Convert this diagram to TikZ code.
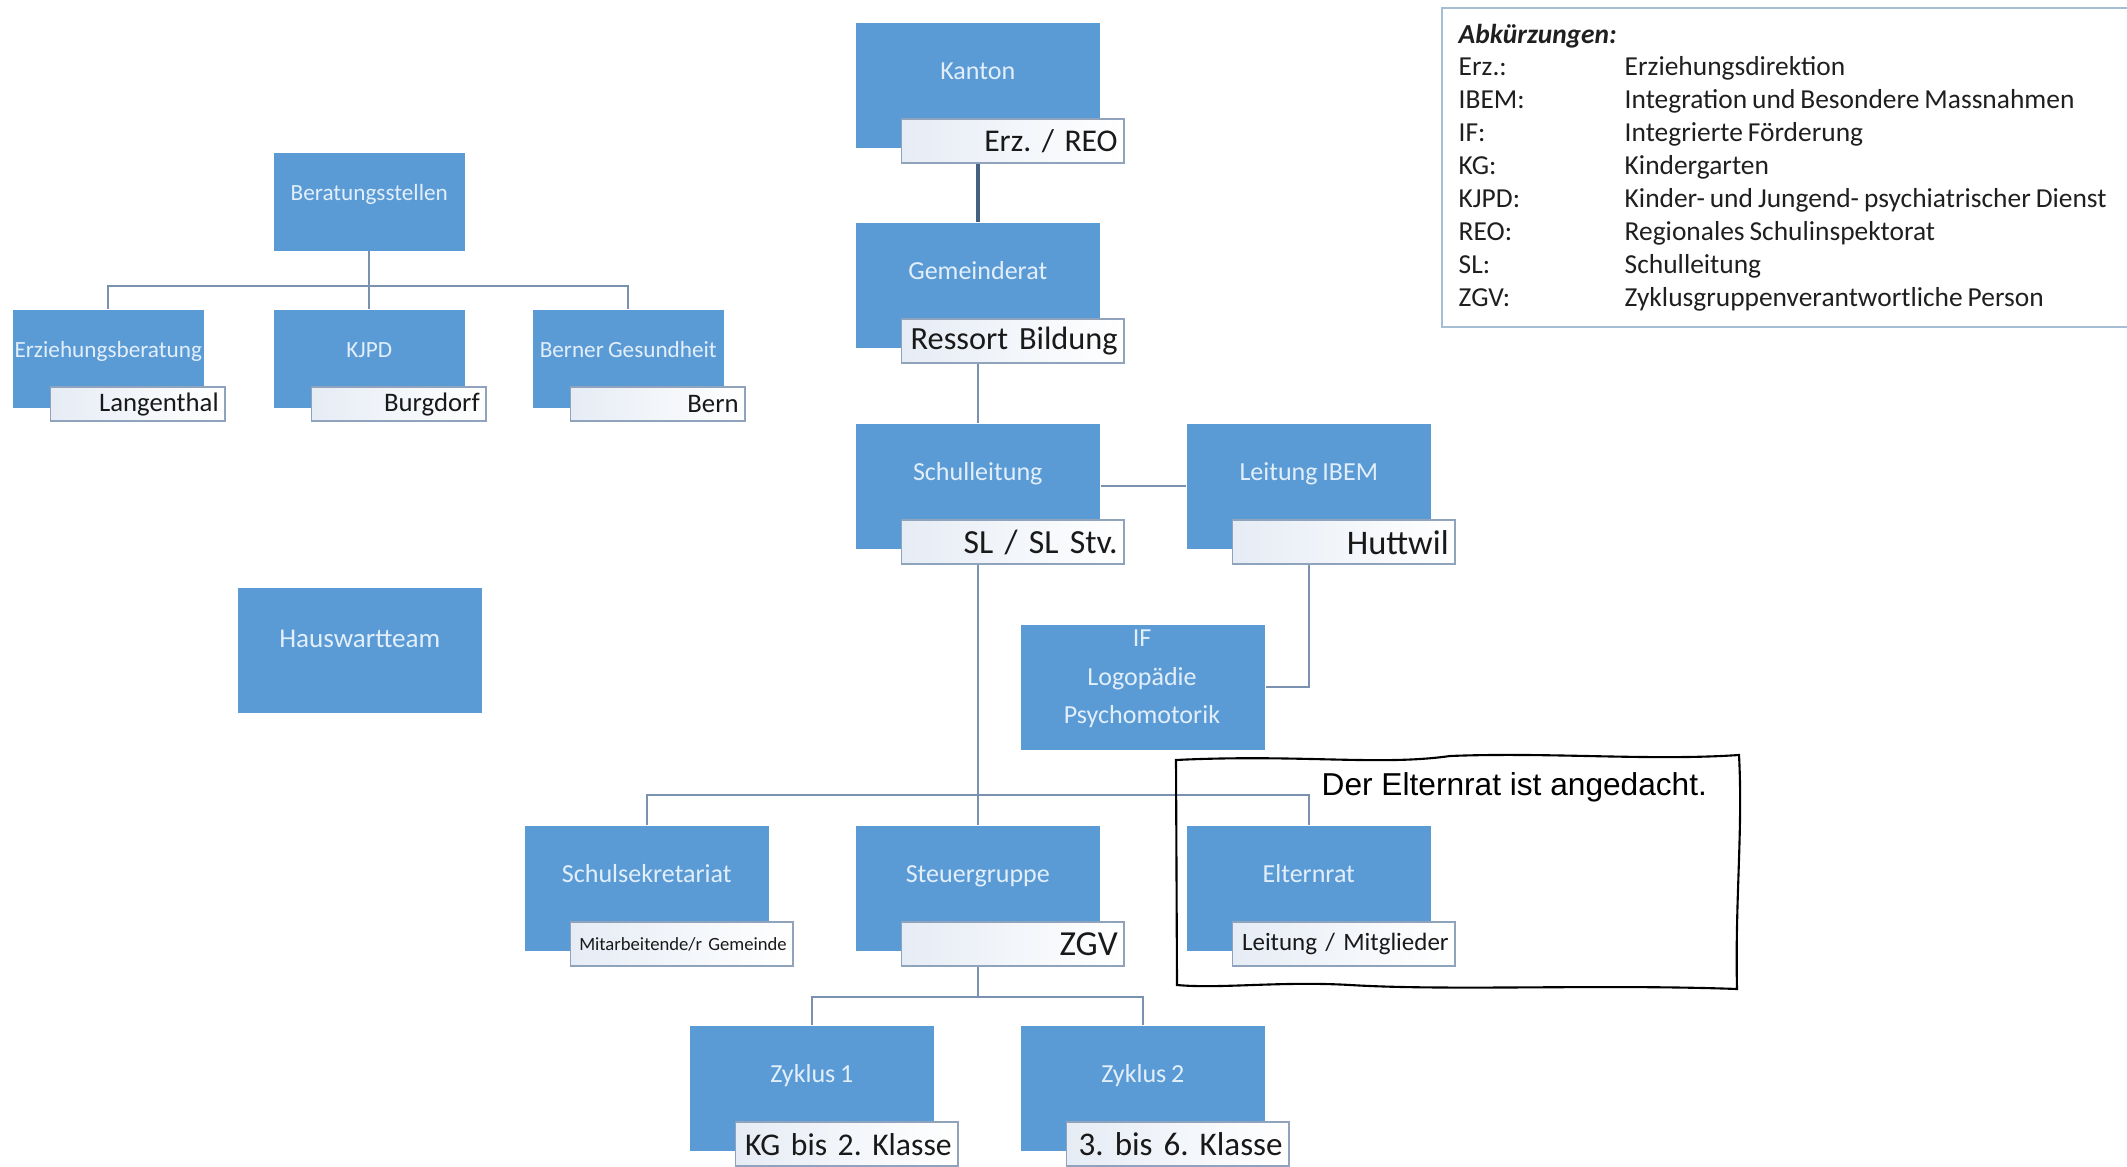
\documentclass[tikz,border=0pt]{standalone}
\usepackage{fontspec}
\setmainfont{Carlito}[WordSpace=0.8]
\newfontfamily\notefont{Liberation Sans}
\usetikzlibrary{positioning}
\frenchspacing
\newcommand{\myfs}[1]{\fontsize{#1}{#1}\selectfont}
\definecolor{boxblue}{RGB}{91,155,213}
\definecolor{boxtxt}{RGB}{226,239,251}
\definecolor{tagline}{RGB}{143,163,188}
\definecolor{tagleft}{RGB}{230,236,245}
\definecolor{linecol}{RGB}{122,146,176}
\definecolor{darkline}{RGB}{68,98,128}
\definecolor{legline}{RGB}{165,190,212}

\tikzset{
  orgbox/.style={fill=boxblue, text=boxtxt, anchor=north west, inner sep=0pt,
    minimum width=2.44cm, minimum height=1.25cm, text height=0.57cm, text depth=0.68cm, font=\myfs{7.4}},
  smallbox/.style={orgbox, minimum width=1.91cm, minimum height=0.98cm,
    text height=0.48cm, text depth=0.50cm, font=\myfs{6.6}},
  tag/.style={draw=tagline, line width=0.5pt, left color=tagleft, right color=white, text=black!90,
    anchor=north east, minimum height=0.44cm, inner xsep=0.06cm, inner ysep=0pt,
    text width=2.10cm, align=right},
  smalltag/.style={tag, minimum height=0.34cm, text width=1.62cm, font=\myfs{7.6}},
  conn/.style={draw=linecol, line width=0.7pt},
  legtext/.style={anchor=base west, inner sep=0pt, font=\myfs{7.8}, text=black!88}
}

\begin{document}
\begin{tikzpicture}[x=0.01cm, y=-0.01cm]
  \useasboundingbox (0,0) rectangle (2127,1167);
  \clip (0,0) rectangle (2127,1167);

  % Beratungsstellen
  \node[smallbox] (ber) at (273,152) {Beratungsstellen};
  \node[smallbox] (erz) at (12,309) {Erziehungsberatung};
  \node[smallbox] (kjpd) at (273,309) {KJPD};
  \node[smallbox] (berner) at (532,309) {Berner Gesundheit};
  \node[smalltag] (erztag) at ([xshift=0.21cm, yshift=0.22cm]erz.south east) {Langenthal};
  \node[smalltag] (kjpdtag) at ([xshift=0.21cm, yshift=0.22cm]kjpd.south east) {Burgdorf};
  \node[smalltag] (bernertag) at ([xshift=0.21cm, yshift=0.22cm]berner.south east) {Bern};
  \draw[conn] (ber.south) -- (kjpd.north);
  \draw[conn] (erz.north) -- ++(0,-23) -| (berner.north);

  \node[orgbox, text height=0.60cm, text depth=0.65cm, font=\myfs{7.7}] (haus) at (237,587) {Hauswartteam};

  % Kanton / Gemeinde / Schule
  \node[orgbox] (kanton) at (855,22) {Kanton};
  \node[tag, font=\myfs{9}] (kantontag) at ([xshift=0.24cm, yshift=0.30cm]kanton.south east) {Erz. / REO};
  \node[orgbox] (gemeinderat) at (855,222) {Gemeinderat};
  \node[tag, font=\myfs{9.2}] (gemtag) at ([xshift=0.24cm, yshift=0.30cm]gemeinderat.south east) {Ressort Bildung};
  \node[orgbox] (schulleitung) at (855,423) {Schulleitung};
  \node[tag, font=\myfs{9.6}] (sltag) at ([xshift=0.24cm, yshift=0.30cm]schulleitung.south east) {SL / SL Stv.};
  \node[orgbox] (ibem) at (1186,423) {Leitung IBEM};
  \node[tag, font=\myfs{9.8}] (ibemtag) at ([xshift=0.24cm, yshift=0.30cm]ibem.south east) {Huttwil};
  \node[orgbox] (ifbox) at (1020,624) {};
  \node[text=boxtxt, align=center, inner sep=0pt, font=\fontsize{7.4}{10.9}\selectfont] (iftext) at (1142,679) {IF\\Logopädie\\Psychomotorik};

  \node[orgbox] (sekr) at (524,825) {Schulsekretariat};
  \node[tag, font=\myfs{5.3}] (sekrtag) at ([xshift=0.24cm, yshift=0.30cm]sekr.south east) {Mitarbeitende/r Gemeinde};
  \node[orgbox] (steuer) at (855,825) {Steuergruppe};
  \node[tag, font=\myfs{10}] (steuertag) at ([xshift=0.24cm, yshift=0.30cm]steuer.south east) {ZGV};
  \node[orgbox] (eltern) at (1186,825) {Elternrat};
  \node[tag, font=\myfs{7.1}] (elterntag) at ([xshift=0.24cm, yshift=0.30cm]eltern.south east) {Leitung / Mitglieder};

  \node[orgbox] (zyk1) at (689,1025) {Zyklus 1};
  \node[tag, font=\myfs{9}] (zyk1tag) at ([xshift=0.24cm, yshift=0.30cm]zyk1.south east) {KG bis 2. Klasse};
  \node[orgbox] (zyk2) at (1020,1025) {Zyklus 2};
  \node[tag, font=\myfs{9.4}] (zyk2tag) at ([xshift=0.24cm, yshift=0.30cm]zyk2.south east) {3. bis 6. Klasse};

  \draw[darkline, line width=1.1pt] (kanton.south |- kantontag.south) -- (gemeinderat.north);
  \draw[conn] (gemeinderat.south |- gemtag.south) -- (schulleitung.north);
  \draw[conn] (schulleitung.east) -- (ibem.west);
  \draw[conn] (ibem.south |- ibemtag.south) |- (ifbox.east);
  \draw[conn] (schulleitung.south |- sltag.south) -- (steuer.north);
  \draw[conn] (sekr.north) -- ++(0,-30) -| (eltern.north);
  \coordinate (zbus) at ([yshift=0.28cm]zyk1.north -| steuer.south);
  \draw[conn] (steuer.south |- steuertag.south) -- (zbus);
  \draw[conn] (zyk1.north) -- ++(0,-28) -| (zyk2.north);

  % Abkuerzungen
  \node[draw=legline, line width=0.6pt, anchor=north west, minimum width=7.2cm, minimum height=3.19cm] (legend) at (1441,7) {};
  \node[legtext, font=\myfs{7.8}\bfseries\itshape] (legtitle) at (1458,44) {Abkürzungen:};
  \foreach \abk/\txt [count=\i] in {Erz.:/Erziehungsdirektion, IBEM:/Integration und Besondere Massnahmen,
      IF:/Integrierte Förderung, KG:/Kindergarten, KJPD:/Kinder- und Jungend- psychiatrischer Dienst,
      REO:/Regionales Schulinspektorat, SL:/Schulleitung, ZGV:/Zyklusgruppenverantwortliche Person}
  {
    \node[legtext] (abk\i) at (1458,43+33*\i) {\abk};
    \node[legtext] (txt\i) at (1624,43+33*\i) {\txt};
  }

  % Notiz
  \draw[line width=0.6pt] (1176,760) .. controls (1300,754) and (1380,766) .. (1450,756)
    .. controls (1550,752) and (1650,761) .. (1739,755)
    .. controls (1743,830) and (1735,900) .. (1737,989)
    .. controls (1600,984) and (1450,991) .. (1350,985)
    .. controls (1280,981) and (1220,989) .. (1177,985) -- cycle;
  \node[anchor=west, inner sep=0pt, font=\notefont\myfs{9}] (note) at (1321,787) {Der Elternrat ist angedacht.};
\end{tikzpicture}
\end{document}
